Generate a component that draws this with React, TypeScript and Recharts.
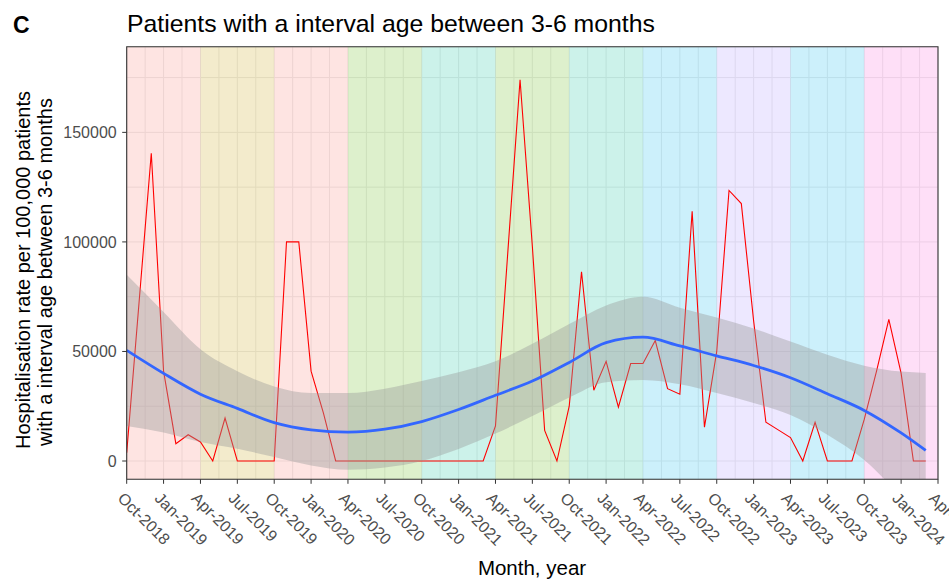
import React from "react";
import {
  ComposedChart,
  Line,
  Area,
  XAxis,
  YAxis,
  CartesianGrid,
  ReferenceArea,
} from "recharts";

const FONT = '"Liberation Sans", Arial, Helvetica, sans-serif';

// monthly hospitalisation rate, month 0 = Oct-2018 ... month 65 = Mar-2024
const RATE = [
  3800, 72000, 140500, 41000, 7900, 12000, 8700, 0, 19600, 0, 0, 0,
  0, 100000, 100000, 41000, 22000, 0, 0, 0, 0, 0, 0, 0,
  0, 0, 0, 0, 0, 0, 16000, 95000, 174000, 98000, 14000, 0,
  25000, 86400, 32300, 45500, 24600, 44500, 44500, 55000, 33000, 30500, 114000, 15400,
  50000, 123500, 117500, 64000, 17700, 14200, 10700, 0, 17700, 0, 0, 0,
  19000, 41000, 64600, 40000, 0, 0,
];

const SMOOTH_MONTHS = [0, 3, 6, 9, 12, 15, 18, 21, 24, 27, 30, 33, 36, 39, 42, 45, 48, 51, 54, 57, 60, 63, 65];
const SMOOTH_FIT = [
  50500, 40000, 30500, 24000, 17500, 14200, 13200, 14500, 18000, 23500, 30000, 36500,
  45000, 54000, 56500, 52500, 48000, 43600, 38000, 30700, 23100, 12800, 4800,
];
const SMOOTH_LOW = [
  16000, 13000, 8700, 5600, 1800, -2000, -4000, -3000, 0, 5500, 12500, 20500,
  29000, 36000, 37000, 35000, 31000, 26500, 21000, 12000, 500, -16500, -29500,
];
const SMOOTH_HIGH = [
  85000, 68000, 51000, 41000, 34000, 31000, 31000, 33000, 36500, 40500, 45500, 53500,
  62500, 71000, 75000, 70000, 65500, 60500, 54500, 48500, 43500, 40800, 40200,
];

// x-axis ticks (month index) and their labels
const X_TICKS = [0, 3, 6, 9, 12, 15, 18, 21, 24, 27, 30, 33, 36, 39, 42, 45, 48, 51, 54, 57, 60, 63, 66];
const X_TICK_LABELS = [
  "Oct-2018", "Jan-2019", "Apr-2019", "Jul-2019", "Oct-2019", "Jan-2020", "Apr-2020", "Jul-2020",
  "Oct-2020", "Jan-2021", "Apr-2021", "Jul-2021", "Oct-2021", "Jan-2022", "Apr-2022", "Jul-2022",
  "Oct-2022", "Jan-2023", "Apr-2023", "Jul-2023", "Oct-2023", "Jan-2024", "Apr-2024",
];
const Y_TICKS = [0, 50000, 100000, 150000];
const Y_GRID = [0, 25000, 50000, 75000, 100000, 125000, 150000, 175000];
const X_GRID = X_TICKS.flatMap((t) => [t, t + 1.5]).filter((v) => v <= 66);

const X_DOMAIN = [0, 66];
const Y_DOMAIN = [-8350, 189100];

// six-month background periods
const PERIOD_START = [0, 6, 12, 18, 24, 30, 36, 42, 48, 54, 60];
const PERIOD_END = [6, 12, 18, 24, 30, 36, 42, 48, 54, 60, 66];
const PERIOD_FILL = [
  "#F8766D", "#C49A00", "#F8766D", "#53B400", "#00C094", "#53B400",
  "#00C094", "#00B6EB", "#A58AFF", "#00B6EB", "#FB61D7",
];

const data = RATE.map((rate, m) => {
  const k = SMOOTH_MONTHS.indexOf(m);
  return {
    m,
    rate,
    fit: k >= 0 ? SMOOTH_FIT[k] : null,
    band: k >= 0 ? [SMOOTH_LOW[k], SMOOTH_HIGH[k]] : null,
  };
});

function MonthTick({ x, y, payload }: any) {
  const i = X_TICKS.indexOf(payload.value);
  return (
    <g transform={`translate(${x},${y})`}>
      <text
        transform="rotate(45)"
        x={4}
        y={18}
        textAnchor="start"
        fill="#4D4D4D"
        fontSize={16}
        fontFamily={FONT}
      >
        {X_TICK_LABELS[i]}
      </text>
    </g>
  );
}

export default function App() {
  return (
    <div style={{ position: "absolute", left: 0, top: 0, width: 949, height: 579, background: "#fff" }}>
      <ComposedChart
        width={949}
        height={579}
        data={data}
        margin={{ top: 46.7, right: 11, bottom: 49.7, left: 66.7 }}
      >
        <CartesianGrid stroke="#EBEBEB" strokeWidth={1} xAxisId="grid" yAxisId="grid" />
        {PERIOD_START.map((s, i) => (
          <ReferenceArea
            key={s}
            x1={s}
            x2={PERIOD_END[i]}
            fill={PERIOD_FILL[i]}
            fillOpacity={0.2}
            stroke="none"
            zIndex={50}
          />
        ))}
        <Line
          type="linear"
          dataKey="rate"
          stroke="#FF0000"
          strokeWidth={1.1}
          dot={false}
          activeDot={false}
          isAnimationActive={false}
          zIndex={150}
        />
        <Area
          type="monotone"
          dataKey="band"
          fill="#999999"
          fillOpacity={0.4}
          stroke="none"
          connectNulls
          dot={false}
          activeDot={false}
          isAnimationActive={false}
          zIndex={200}
        />
        <Line
          type="monotone"
          dataKey="fit"
          stroke="#3366FF"
          strokeWidth={2.8}
          dot={false}
          activeDot={false}
          connectNulls
          isAnimationActive={false}
          zIndex={450}
        />
        <ReferenceArea x1={0} x2={66} fill="none" stroke="#333333" strokeWidth={1.1} zIndex={460} />
        <XAxis
          xAxisId="grid"
          type="number"
          dataKey="m"
          domain={X_DOMAIN}
          ticks={X_GRID}
          interval={0}
          allowDataOverflow
          hide
        />
        <YAxis
          yAxisId="grid"
          type="number"
          domain={Y_DOMAIN}
          ticks={Y_GRID}
          interval={0}
          allowDataOverflow
          hide
        />
        <XAxis
          type="number"
          dataKey="m"
          domain={X_DOMAIN}
          ticks={X_TICKS}
          interval={0}
          allowDataOverflow
          height={50}
          axisLine={false}
          tickLine={{ stroke: "#333333" }}
          tickSize={4.5}
          tickMargin={0}
          tick={<MonthTick />}
        />
        <YAxis
          type="number"
          domain={Y_DOMAIN}
          ticks={Y_TICKS}
          interval={0}
          allowDataOverflow
          width={60}
          axisLine={false}
          tickLine={{ stroke: "#333333" }}
          tickSize={4.5}
          tickMargin={5.5}
          tick={{ fill: "#4D4D4D", fontSize: 16, fontFamily: FONT }}
        />
      </ComposedChart>
      <svg
        width={949}
        height={579}
        style={{ position: "absolute", left: 0, top: 0, pointerEvents: "none" }}
        fontFamily={FONT}
      >
        <text x={13} y={32.5} fontSize={23} fontWeight="bold" fill="#000">
          C
        </text>
        <text x={127} y={32.3} fontSize={24.8} fill="#000">
          Patients with a interval age between 3-6 months
        </text>
        <text x={532} y={575} fontSize={20.5} textAnchor="middle" fill="#000">
          Month, year
        </text>
        <text transform="translate(29.5,270) rotate(-90)" fontSize={20} textAnchor="middle" fill="#000">
          Hospitalisation rate per 100,000 patients
        </text>
        <text transform="translate(52.3,272) rotate(-90)" fontSize={20} textAnchor="middle" fill="#000">
          with a interval age between 3-6 months
        </text>
      </svg>
    </div>
  );
}
